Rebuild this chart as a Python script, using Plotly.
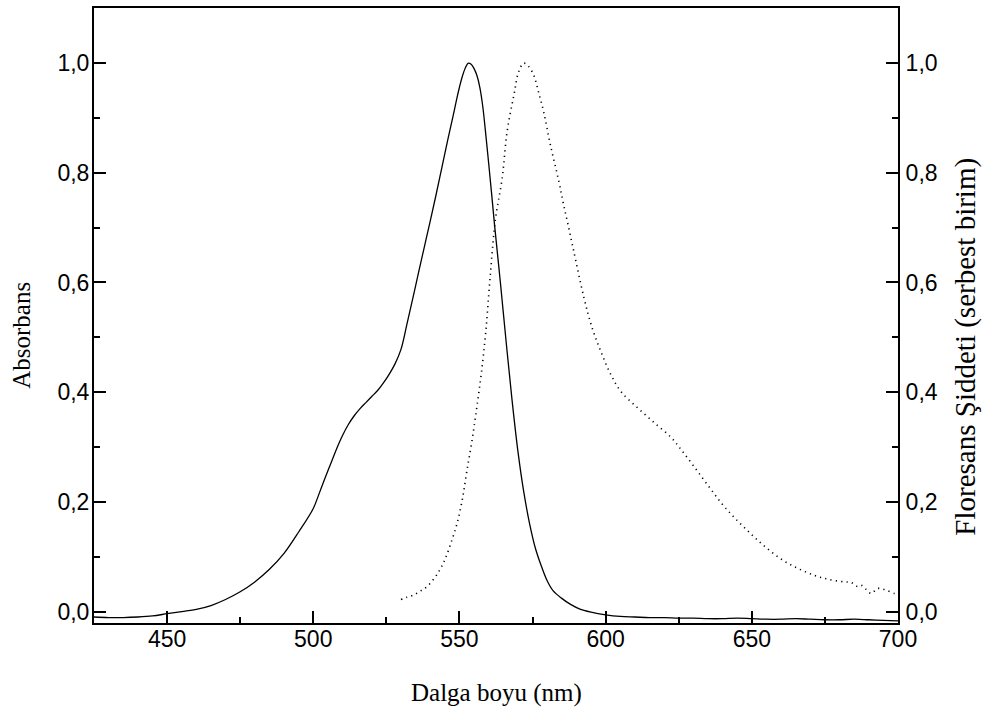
import plotly.graph_objects as go

# Absorption spectrum (solid line)
abs_wl = [425, 430, 435, 440, 445, 450, 455, 460, 465, 470, 475, 480, 485, 490, 495,
          500, 502, 504, 506, 508, 510, 512, 514, 516, 518, 520, 522, 524, 526, 528,
          530, 532, 534, 536, 538, 540, 542, 544, 546, 548, 549, 550, 551, 552, 553, 554,
          555, 556, 557, 558, 559, 560, 561, 562, 564, 566, 568, 570, 572, 574, 576,
          578, 580, 582, 585, 588, 591, 595, 600, 605, 610, 615, 620, 625, 630, 635,
          640, 645, 650, 655, 660, 665, 670, 675, 680, 685, 690, 695, 700]
abs_val = [-0.010, -0.011, -0.011, -0.010, -0.008, -0.004, 0.000, 0.004, 0.011, 0.022,
           0.036, 0.054, 0.077, 0.106, 0.145, 0.188, 0.215, 0.243, 0.270, 0.297,
           0.321, 0.341, 0.357, 0.370, 0.381, 0.392, 0.403, 0.417, 0.433, 0.452,
           0.478, 0.523, 0.570, 0.618, 0.665, 0.712, 0.760, 0.810, 0.860, 0.908,
           0.933, 0.956, 0.976, 0.991, 1.000, 0.998, 0.990, 0.977, 0.955, 0.920, 0.870,
           0.817, 0.762, 0.705, 0.600, 0.490, 0.385, 0.292, 0.218, 0.160, 0.115,
           0.083, 0.056, 0.038, 0.024, 0.013, 0.005, -0.001, -0.006, -0.009, -0.010,
           -0.011, -0.011, -0.012, -0.012, -0.013, -0.013, -0.012, -0.013, -0.014, -0.014,
           -0.013, -0.014, -0.015, -0.015, -0.014, -0.015, -0.016, -0.017]

# Fluorescence spectrum (dotted line)
flu_wl = [530, 532, 534.3, 536.5, 539, 541.7, 543.5, 545.2, 547.4, 549.2, 551, 552.5,
          554.3, 556, 557.5, 559, 560.5, 562.3, 564.6, 566.3, 568.6, 570.3, 572, 573.5,
          575.4, 577, 578.8, 581.1, 584, 585.5, 587.4, 589.1, 592.6, 595.4, 598.3,
          601.7, 605.1, 610.8, 616.5, 622.3, 625.7, 630, 635, 640, 645, 650, 655,
          660.5, 666, 671.4, 676, 681.7, 684, 686, 687.4, 689, 690.8, 693, 695.4,
          698.8, 700]
flu_val = [0.022, 0.026, 0.030, 0.037, 0.046, 0.063, 0.078, 0.097, 0.130, 0.161, 0.205,
           0.255, 0.312, 0.375, 0.435, 0.510, 0.610, 0.715, 0.790, 0.875, 0.941, 0.985,
           1.000, 0.995, 0.978, 0.948, 0.911, 0.851, 0.784, 0.745, 0.699, 0.657, 0.572,
           0.517, 0.475, 0.433, 0.402, 0.372, 0.345, 0.318, 0.296, 0.266, 0.230, 0.195,
           0.166, 0.140, 0.116, 0.094, 0.078, 0.066, 0.059, 0.054, 0.053, 0.046, 0.048,
           0.041, 0.033, 0.042, 0.040, 0.033, 0.033]

x_range = [425, 700]
y_range = [-0.0209, 1.1005]

fig = go.Figure()
fig.add_trace(go.Scatter(x=abs_wl, y=abs_val, mode="lines", yaxis="y",
                         line=dict(color="black", width=1.3, shape="spline", smoothing=1.0),
                         showlegend=False))
fig.add_trace(go.Scatter(x=flu_wl, y=flu_val, mode="lines", yaxis="y2",
                         line=dict(color="black", width=1.6, dash="1.2px,4.2px",
                                   shape="spline", smoothing=1.0),
                         showlegend=False))

tick_font = dict(family="Liberation Sans, Arial, sans-serif", size=23, color="black")
title_font = dict(family="Liberation Serif, Times New Roman, serif", color="black")

axis_common = dict(showline=True, linecolor="black", linewidth=2, ticks="inside",
                   ticklen=12, tickwidth=2, tickcolor="black", showgrid=False,
                   zeroline=False, tickfont=tick_font)

minor_ticks = dict(ticks="inside", ticklen=6, tickwidth=2, tickcolor="black")

fig.update_layout(
    width=985, height=719,
    margin=dict(l=94.4, r=87.3, t=5.7, b=96),
    paper_bgcolor="white", plot_bgcolor="white",
    separators=",.",
    xaxis=dict(range=x_range, tick0=450, dtick=50, mirror=True,
               minor=dict(dtick=25, **minor_ticks),
               ticklabelstandoff=-6, **axis_common),
    yaxis=dict(range=y_range, tick0=0, dtick=0.2, tickformat=".1f",
               minor=dict(dtick=0.1, **minor_ticks),
               ticklabelstandoff=-2, **axis_common),
    yaxis2=dict(range=y_range, tick0=0, dtick=0.2, tickformat=".1f", overlaying="y",
                side="right", minor=dict(dtick=0.1, **minor_ticks),
                ticklabelstandoff=1, **axis_common),
    annotations=[
        dict(text="Dalga boyu (nm)", xref="paper", yref="paper", x=0.501, y=-0.1134,
             xanchor="center", yanchor="middle", showarrow=False,
             font=dict(size=25, **title_font)),
        dict(text="Absorbans", xref="paper", yref="paper", x=-0.0901, y=0.468,
             xanchor="center", yanchor="middle", showarrow=False, textangle=-90,
             font=dict(size=25, **title_font)),
        dict(text="Floresans Şiddeti (serbest birim)", xref="paper", yref="paper",
             x=1.0838, y=0.450, xanchor="center", yanchor="middle", showarrow=False,
             textangle=-90, font=dict(size=29, **title_font)),
    ],
)

fig.write_html("out.html")
